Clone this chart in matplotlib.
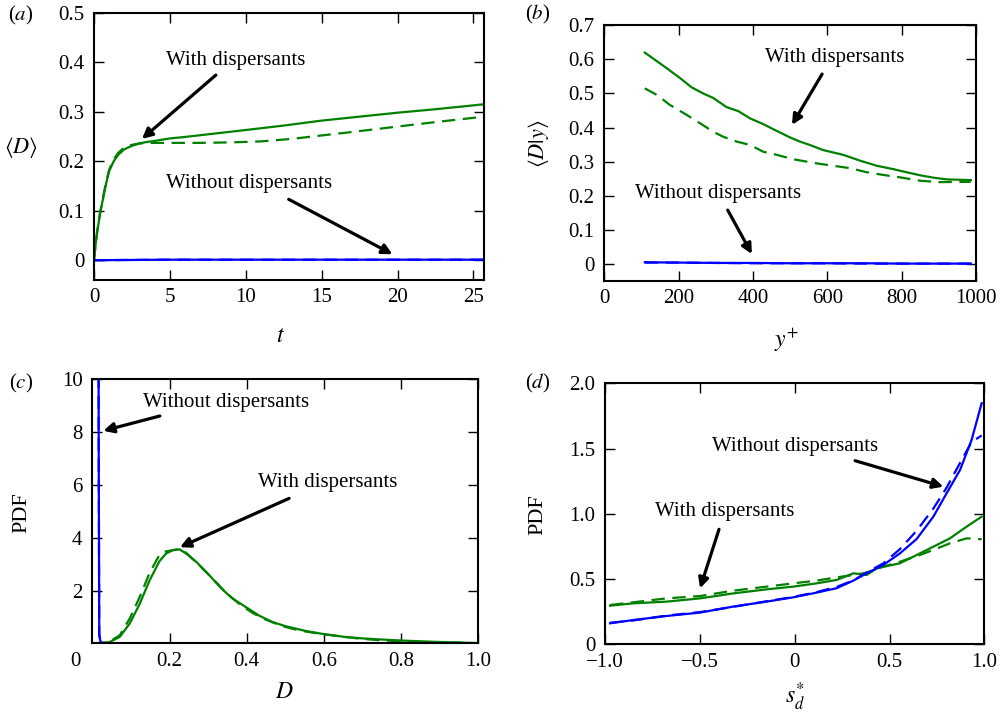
import numpy as np
import matplotlib
matplotlib.use("Agg")
import matplotlib.pyplot as plt

plt.rcParams['font.family'] = 'serif'
plt.rcParams['font.serif'] = ['Liberation Serif', 'DejaVu Serif']
plt.rcParams['mathtext.fontset'] = 'stix'
plt.rcParams['font.size'] = 15

GREEN = '#008000'
BLUE = '#0000ff'

# (a) mean droplet diameter versus time
t_with = [0, 0.1, 0.2, 0.4, 0.6, 0.8, 1.0, 1.3, 1.6, 2.0, 2.5, 3.0, 3.5, 4, 5, 6, 8, 10,
          12.5, 15, 17.5, 20, 22.5, 25.7]
d_with_solid = [0, 0.03, 0.055, 0.094, 0.125, 0.155, 0.18, 0.2, 0.213, 0.224, 0.231, 0.236,
                0.239, 0.241, 0.246, 0.249, 0.256, 0.263, 0.272, 0.282, 0.290, 0.298, 0.305, 0.315]
t_with_dash = [0, 0.1, 0.2, 0.4, 0.6, 0.8, 1.0, 1.3, 1.6, 2.0, 2.5, 3.0, 4, 5, 7, 9, 11, 13,
               15, 17, 20, 22.5, 25.7]
d_with_dash = [0, 0.03, 0.056, 0.096, 0.128, 0.158, 0.183, 0.204, 0.217, 0.228, 0.233, 0.236,
               0.237, 0.237, 0.237, 0.238, 0.240, 0.245, 0.252, 0.259, 0.270, 0.279, 0.290]
t_without = [0, 5, 10, 15, 20, 25.7]
d_without_solid = [0, 0.001, 0.001, 0.001, 0.001, 0.001]
d_without_dash = [0, 0.001, 0.001, 0.001, 0.001, 0.001]

# (b) conditional mean diameter versus wall distance
yp_solid = [109, 168, 204, 235, 266, 293, 329, 361, 392, 428, 455, 500, 526, 553, 589, 643,
            688, 733, 778, 805, 850, 886, 922, 986]
dy_with_solid = [0.62, 0.574, 0.545, 0.518, 0.5, 0.487, 0.46, 0.448, 0.427, 0.41, 0.395, 0.371,
                 0.359, 0.349, 0.334, 0.32, 0.303, 0.288, 0.278, 0.271, 0.26, 0.253, 0.248, 0.246]
yp_dash = [109, 141, 177, 222, 257, 293, 320, 356, 392, 428, 464, 509, 571, 616, 661, 706,
           751, 796, 850, 903, 986]
dy_with_dash = [0.515, 0.496, 0.466, 0.437, 0.413, 0.388, 0.373, 0.359, 0.349, 0.329, 0.32,
                0.307, 0.295, 0.288, 0.281, 0.269, 0.261, 0.254, 0.244, 0.24, 0.241]
yp_without = [109, 200, 300, 400, 500, 600, 700, 800, 900, 986]
dy_without_solid = [0.005, 0.004, 0.003, 0.003, 0.002, 0.002, 0.002, 0.001, 0.001, 0.001]
dy_without_dash = [0.004, 0.004, 0.003, 0.002, 0.002, 0.002, 0.001, 0.001, 0.001, 0.001]

# (c) PDF of droplet diameter
dc_with_solid = [0.0, 0.02, 0.045, 0.071, 0.097, 0.123, 0.148, 0.174, 0.191, 0.209, 0.226,
                 0.243, 0.269, 0.303, 0.337, 0.363, 0.397, 0.432, 0.466, 0.5, 0.552, 0.603,
                 0.655, 0.706, 0.792, 0.878, 0.99, 1.0]
pdf_with_solid = [0, 0, 0.05, 0.24, 0.75, 1.5, 2.37, 3.11, 3.4, 3.53, 3.56, 3.4, 3.09, 2.58,
                  2.04, 1.7, 1.38, 1.05, 0.81, 0.65, 0.47, 0.34, 0.24, 0.18, 0.11, 0.06, 0.01, 0.01]
dc_with_dash = [0.0, 0.02, 0.045, 0.071, 0.097, 0.123, 0.148, 0.174, 0.187, 0.209, 0.226,
                0.243, 0.277, 0.311, 0.346, 0.38, 0.415, 0.449, 0.492, 0.535, 0.586, 0.638,
                0.69, 0.749, 0.835, 0.99, 1.0]
pdf_with_dash = [0, 0, 0.07, 0.3, 0.94, 1.76, 2.65, 3.35, 3.47, 3.53, 3.56, 3.43, 2.96, 2.46,
                 1.92, 1.5, 1.15, 0.9, 0.65, 0.49, 0.37, 0.27, 0.18, 0.11, 0.06, 0.01, 0.01]
dc_without = [0.0155, 0.016, 0.0165, 0.018, 0.021, 0.025, 0.03, 0.1, 0.3, 0.5, 0.7, 1.0]
pdf_without_solid = [40, 20, 8, 0.3, 0.08, 0.02, 0, 0, 0, 0, 0, 0]
pdf_without_dash = [40, 20, 8, 0.35, 0.1, 0.02, 0, 0, 0, 0, 0, 0]

# (d) PDF of normalised displacement speed
s_pts = [-0.975, -0.852, -0.676, -0.5, -0.325, -0.149, -0.008, 0.115, 0.221, 0.309, 0.379,
         0.467, 0.555, 0.643, 0.731, 0.801, 0.872, 0.933, 0.986]
pdf_s_without_solid = [0.161, 0.186, 0.217, 0.243, 0.289, 0.327, 0.36, 0.396, 0.43, 0.488,
                       0.544, 0.608, 0.697, 0.807, 0.978, 1.157, 1.336, 1.566, 1.847]
pdf_s_without_dash = [0.165, 0.183, 0.22, 0.247, 0.287, 0.33, 0.363, 0.4, 0.44, 0.49, 0.55,
                      0.62, 0.73, 0.87, 1.04, 1.2, 1.39, 1.55, 1.6]
s_green = [-0.975, -0.852, -0.676, -0.5, -0.325, -0.149, -0.008, 0.115, 0.221, 0.309, 0.379,
           0.432, 0.555, 0.661, 0.731, 0.819, 0.907, 0.986]
pdf_s_with_solid = [0.296, 0.314, 0.327, 0.352, 0.39, 0.421, 0.442, 0.467, 0.493, 0.544, 0.531,
                    0.582, 0.621, 0.697, 0.748, 0.812, 0.902, 0.978]
pdf_s_with_dash = [0.301, 0.322, 0.352, 0.37, 0.411, 0.442, 0.467, 0.488, 0.513, 0.531, 0.549,
                   0.58, 0.633, 0.685, 0.723, 0.774, 0.812, 0.805]

fig = plt.figure(figsize=(10.05, 7.13), dpi=100)
W, H = 1005.0, 713.0


def add_axes(left, top, right, bottom):
    return fig.add_axes([left / W, 1 - bottom / H, (right - left) / W, (bottom - top) / H])


ax_a = add_axes(94, 12.7, 484, 280)
ax_b = add_axes(604.3, 25.3, 976, 281)
ax_c = add_axes(92.3, 379.3, 478.3, 643.3)
ax_d = add_axes(605.3, 383.3, 984.3, 644.3)

LW = 1.6
DASH = (6, 3.4)


def style(ax):
    for s in ax.spines.values():
        s.set_linewidth(1.5)
    ax.tick_params(which='both', direction='in', top=True, right=True,
                   length=7, width=1.0, labelsize=15)
    ax.tick_params(axis='x', pad=6)
    ax.tick_params(axis='y', pad=7)


def arrow(ax, tail, head):
    ax.annotate('', xy=head, xytext=tail,
                arrowprops=dict(arrowstyle='-|>,head_length=0.4,head_width=0.2',
                                color='k', lw=2.3, mutation_scale=15,
                                shrinkA=0, shrinkB=0))


# panel (a)
ax = ax_a
ax.plot(t_with, d_with_solid, color=GREEN, lw=LW)
ax.plot(t_with_dash, d_with_dash, color=GREEN, lw=LW, dashes=DASH)
ax.plot(t_without, d_without_solid, color=BLUE, lw=LW)
ax.plot(t_without, d_without_dash, color=BLUE, lw=LW, dashes=DASH)
ax.set_xlim(0, 25.7)
ax.set_ylim(-0.04, 0.5)
ax.set_xticks([0, 5, 10, 15, 20, 25])
ax.set_xticklabels(['0', '5', '10', '15', '20', '25'])
ax.set_yticks([0, 0.1, 0.2, 0.3, 0.4, 0.5])
ax.set_yticklabels(['0', '0.1', '0.2', '0.3', '0.4', '0.5'])
ax.text(9.34, 0.404, 'With dispersants', ha='center', va='center', fontsize=15)
arrow(ax, (8.03, 0.374), (3.16, 0.245))
ax.text(10.23, 0.154, 'Without dispersants', ha='center', va='center', fontsize=15)
arrow(ax, (12.83, 0.123), (19.67, 0.012))
style(ax)

# panel (b)
ax = ax_b
ax.plot(yp_solid, dy_with_solid, color=GREEN, lw=LW)
ax.plot(yp_dash, dy_with_dash, color=GREEN, lw=LW, dashes=DASH)
ax.plot(yp_without, dy_without_solid, color=BLUE, lw=LW)
ax.plot(yp_without, dy_without_dash, color=BLUE, lw=LW, dashes=DASH)
ax.set_xlim(0, 1000)
ax.set_ylim(-0.05, 0.7)
ax.set_xticks([0, 200, 400, 600, 800, 1000])
ax.set_xticklabels(['0', '200', '400', '600', '800', '1000'])
ax.set_yticks([0, 0.1, 0.2, 0.3, 0.4, 0.5, 0.6, 0.7])
ax.set_yticklabels(['0', '0.1', '0.2', '0.3', '0.4', '0.5', '0.6', '0.7'])
ax.text(619, 0.607, 'With dispersants', ha='center', va='center', fontsize=15)
arrow(ax, (586, 0.557), (505, 0.408))
ax.text(307, 0.208, 'Without dispersants', ha='center', va='center', fontsize=15)
arrow(ax, (332, 0.158), (397, 0.029))
style(ax)

# panel (c)
ax = ax_c
ax.plot(dc_with_solid, pdf_with_solid, color=GREEN, lw=LW)
ax.plot(dc_with_dash, pdf_with_dash, color=GREEN, lw=LW, dashes=DASH)
ax.plot(dc_without, pdf_without_solid, color=BLUE, lw=LW)
ax.plot(dc_without, pdf_without_dash, color=BLUE, lw=LW, dashes=DASH)
ax.set_xlim(0, 1.0)
ax.set_ylim(0, 10)
ax.set_xticks([0.2, 0.4, 0.6, 0.8, 1.0])
ax.set_xticklabels(['0.2', '0.4', '0.6', '0.8', '1.0'])
ax.set_yticks([2, 4, 6, 8, 10])
ax.set_yticklabels(['2', '4', '6', '8', '10'])
ax.text(0.347, 9.11, 'Without dispersants', ha='center', va='center', fontsize=15)
arrow(ax, (0.175, 8.61), (0.0285, 8.05))
ax.text(0.611, 6.08, 'With dispersants', ha='center', va='center', fontsize=15)
arrow(ax, (0.510, 5.49), (0.227, 3.64))
style(ax)
fig.text(75 / W, 1 - 661.7 / H, '0', ha='center', va='center', fontsize=15)

# panel (d)
ax = ax_d
ax.plot(s_green, pdf_s_with_solid, color=GREEN, lw=LW)
ax.plot(s_green, pdf_s_with_dash, color=GREEN, lw=LW, dashes=DASH)
ax.plot(s_pts, pdf_s_without_solid, color=BLUE, lw=LW)
ax.plot(s_pts, pdf_s_without_dash, color=BLUE, lw=LW, dashes=DASH)
ax.set_xlim(-1.0, 1.0)
ax.set_ylim(0, 2.0)
ax.set_xticks([-1.0, -0.5, 0, 0.5, 1.0])
ax.set_xticklabels(['\u22121.0', '\u22120.5', '0', '0.5', '1.0'])
ax.set_yticks([0, 0.5, 1.0, 1.5, 2.0])
ax.set_yticklabels(['0', '0.5', '1.0', '1.5', '2.0'])
ax.text(0.004, 1.514, 'Without dispersants', ha='center', va='center', fontsize=15)
arrow(ax, (0.318, 1.407), (0.784, 1.208))
ax.text(-0.371, 1.016, 'With dispersants', ha='center', va='center', fontsize=15)
arrow(ax, (-0.4, 0.881), (-0.5, 0.429))
style(ax)

# axis labels and panel tags
def ftext(x, y, s, rot=0, size=15):
    fig.text(x / W, 1 - y / H, s, ha='center', va='center', rotation=rot, fontsize=size)


ftext(21, 147, r'$\langle D\rangle$', size=16)
ftext(280, 336, r'$t$', size=17)
ftext(538, 144, r'$\langle D|y\rangle$', rot=90, size=16)
ftext(787, 340, r'$y^{+}$', size=17)
ftext(22, 513, 'PDF', rot=90, size=16)
ftext(284, 693, r'$D$', size=17)
ftext(538, 515, 'PDF', rot=90, size=16)
ftext(795, 697, r'$s_d^{*}$', size=17)

ftext(21, 15, r'($a$)', size=15)
ftext(538, 14, r'($b$)', size=15)
ftext(21, 383, r'($c$)', size=15)
ftext(538, 383, r'($d$)', size=15)

fig.savefig('out.png', dpi=100)
